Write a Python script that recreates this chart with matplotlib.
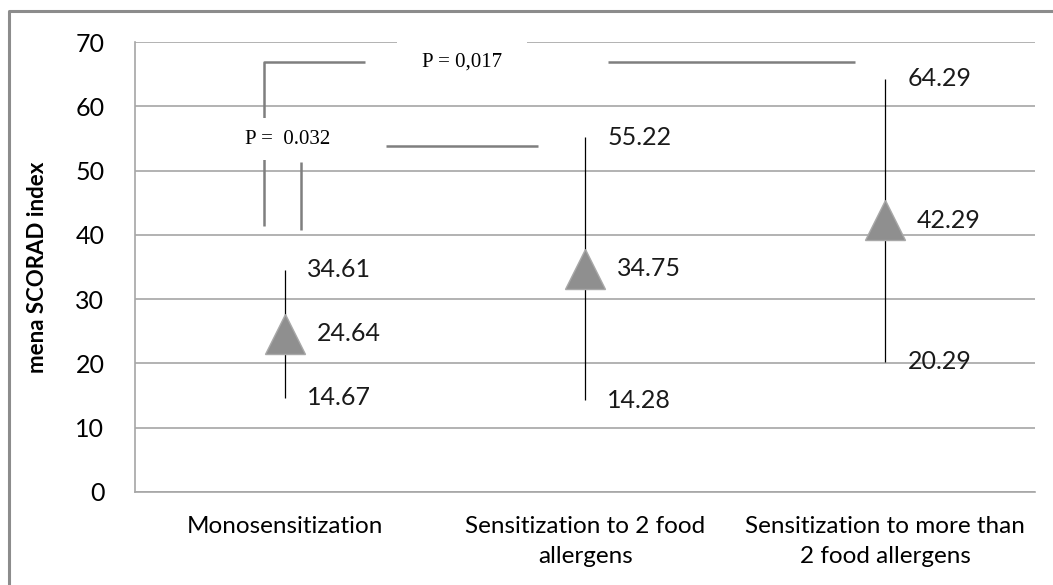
"""Mean SCORAD index by sensitization group."""

import matplotlib

matplotlib.use("Agg")

import matplotlib.pyplot as plt
from matplotlib.lines import Line2D

categories = [
    "Monosensitization",
    "Sensitization to 2 food\nallergens",
    "Sensitization to more than\n2 food allergens",
]
mean_vals = [24.64, 34.75, 42.29]
high_vals = [34.61, 55.22, 64.29]
low_vals = [14.67, 14.28, 20.29]
y_ticks = [0, 10, 20, 30, 40, 50, 60, 70]

GRAY = "#8c8c8c"
GRID = "#a6a6a6"
plt.rcParams["font.family"] = ["Lato", "DejaVu Sans"]

fig = plt.figure(figsize=(10.53, 5.85), dpi=100)
ax = fig.add_axes([0.1282, 0.159, 0.855, 0.769])

x = list(range(len(categories)))

# range lines, then the mean markers on top
ax.vlines(x, low_vals, high_vals, color="black", lw=0.9, zorder=3)
ax.plot(x, mean_vals, ls="none", marker="^", markersize=29,
        markerfacecolor="#8f8f8f", markeredgecolor="#a8a8a8",
        markeredgewidth=1.0, zorder=4)

for xi, m, h, l in zip(x, mean_vals, high_vals, low_vals):
    ax.annotate(f"{h:.2f}", (xi, h), xytext=(16, 0), textcoords="offset points",
                va="center", ha="left", fontsize=18, color="#1a1a1a")
    ax.annotate(f"{m:.2f}", (xi, m), xytext=(23, 0), textcoords="offset points",
                va="center", ha="left", fontsize=18, color="#1a1a1a")
    ax.annotate(f"{l:.2f}", (xi, l), xytext=(16, 0), textcoords="offset points",
                va="center", ha="left", fontsize=18, color="#1a1a1a")

# significance brackets
br = dict(color="#7f7f7f", lw=1.8, zorder=2, solid_capstyle="butt")
ax.plot([-0.07, -0.07, 0.267], [41.4, 66.9, 66.9], **br)
ax.plot([1.077, 1.90], [66.9, 66.9], **br)
ax.plot([0.053, 0.053], [51.3, 40.75], **br)
ax.plot([0.337, 0.843], [53.8, 53.8], **br)

ax.text(0.59, 66.9, "P = 0,017", ha="center", va="center",
        family="Liberation Serif", fontsize=15, zorder=5,
        bbox=dict(boxstyle="square,pad=1.2", fc="white", ec="none"))
ax.text(0.007, 54.9, "P =  0.032", ha="center", va="center",
        family="Liberation Serif", fontsize=15, zorder=5,
        bbox=dict(boxstyle="square,pad=0.55", fc="white", ec="none"))

ax.set_xlim(-0.5, len(categories) - 0.5)
ax.set_ylim(0, 70)
ax.set_yticks(y_ticks)
ax.set_xticks(x)
ax.set_xticklabels(categories, fontsize=17.5, linespacing=1.55)
ax.tick_params(axis="y", length=0, pad=22, labelsize=18)
ax.tick_params(axis="x", length=0, pad=17)
ax.grid(axis="y", color=GRID, lw=1.2)
ax.set_axisbelow(True)
for side in ("top", "right"):
    ax.spines[side].set_visible(False)
for side in ("left", "bottom"):
    ax.spines[side].set_color(GRID)
    ax.spines[side].set_linewidth(1.2)

ax.set_ylabel("mena SCORAD index", fontsize=16, fontweight="bold", labelpad=20)

# outer chart frame (left and top edges only are visible)
fig.add_artist(Line2D([0.0085, 0.0085, 1.0], [0.0, 0.981, 0.981],
                      transform=fig.transFigure, color=GRAY, lw=2.2))

fig.savefig("out.png", dpi=100)
plt.close(fig)
